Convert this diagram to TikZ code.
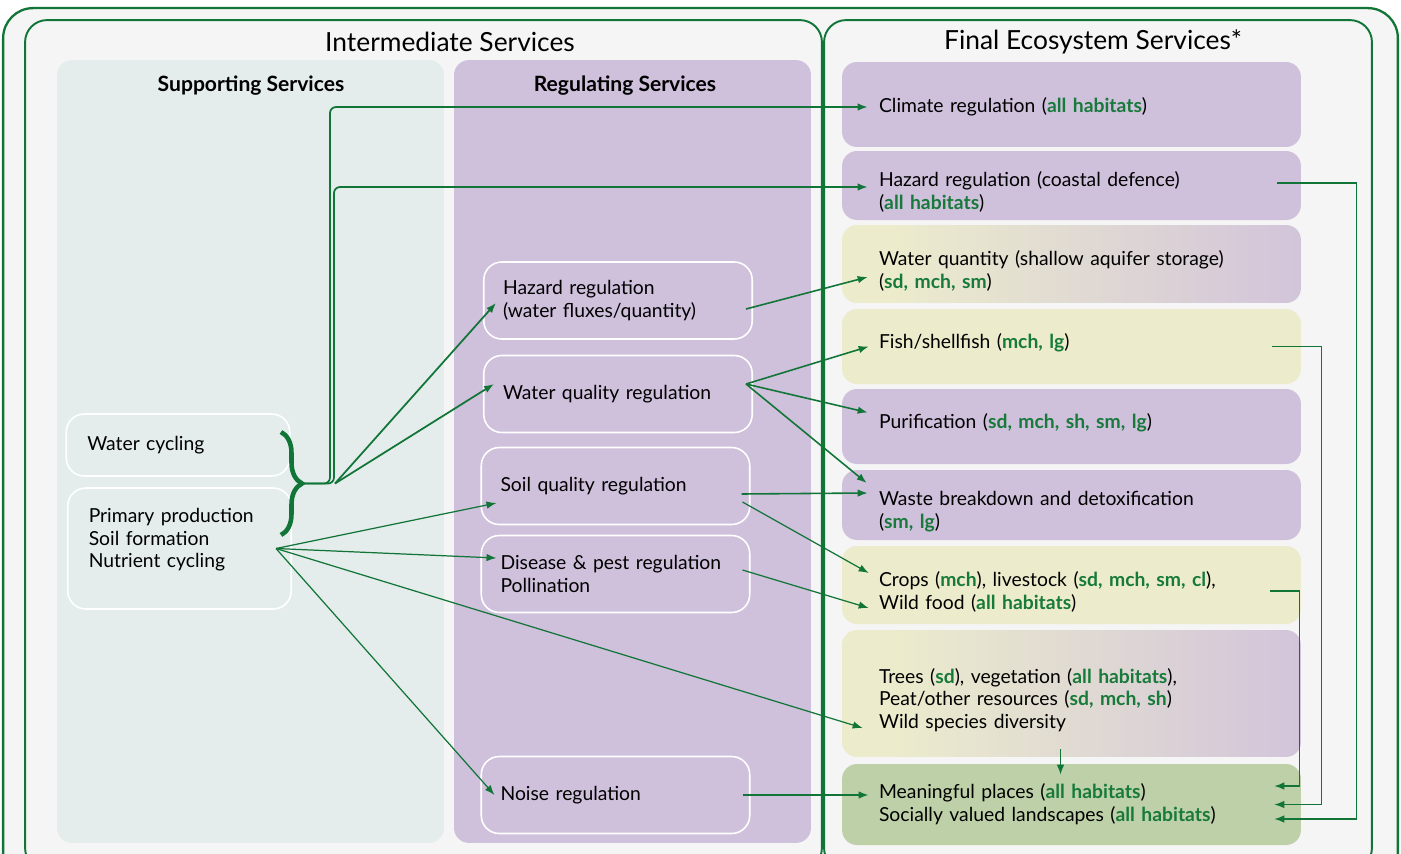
\documentclass[tikz,border=0pt]{standalone}
\usepackage{fontspec}
\setmainfont{Lato}
\usetikzlibrary{arrows.meta, decorations.pathreplacing}

\definecolor{framegreen}{RGB}{18,117,56}
\definecolor{labgreen}{RGB}{24,122,58}
\definecolor{bggray}{RGB}{245,245,245}
\definecolor{supfill}{RGB}{228,236,236}
\definecolor{regpurple}{RGB}{207,192,220}
\definecolor{boxyellow}{RGB}{236,236,204}
\definecolor{boxgreen}{RGB}{190,208,168}

\pgfdeclarehorizontalshading{yelpurp}{100bp}{color(0bp)=(boxyellow); color(30bp)=(boxyellow); color(80bp)=(regpurple); color(100bp)=(regpurple)}

\newcommand{\habs}[1]{\textcolor{labgreen}{\bfseries #1}}

\tikzset{
    frame/.style={draw=framegreen, line width=1.1pt, fill=bggray, rounded corners=0.44cm, inner sep=0pt},
    panel/.style={rounded corners=0.3cm, inner sep=0pt},
    title/.style={font=\fontsize{15}{17}\selectfont},
    subtitle/.style={font=\fontsize{12}{14}\selectfont\bfseries},
    regbox/.style={draw=white, line width=0.9pt, rounded corners=0.36cm, minimum width=5.37cm, minimum height=1.54cm, text width=4.6cm, inner xsep=0.385cm, align=left},
    supbox/.style={draw=white, line width=0.9pt, rounded corners=0.36cm, minimum width=4.47cm, text width=3.63cm, inner xsep=0.42cm, align=left},
    service/.style={rounded corners=0.3cm, minimum width=9.18cm, text width=7.7cm, inner xsep=0.74cm, align=left},
    link/.style={->, draw=framegreen, line width=0.7pt},
}

\begin{document}
\begin{tikzpicture}[x=0.02cm, y=-0.02cm, >={Latex[length=2mm, width=1.5mm]}, every node/.append style={font=\fontsize{11}{13}\selectfont}]
    \useasboundingbox (0,0) rectangle (1401,853);
    \clip (0,0) rectangle (1401,853);
    \fill[white] (0,0) rectangle (1401,853);

    %Place frame nodes
    \node[frame, line width=1.3pt, rounded corners=0.6cm, minimum width=27.9cm, minimum height=17.54cm] (outer) at (700.5,446.5) {};
    \node[frame, minimum width=15.94cm, minimum height=17cm] (inter) at (423.5,445) {};
    \node[frame, minimum width=10.96cm, minimum height=17cm] (final) at (1098,445) {};

    %Place title nodes
    \node[title] (intertitle) at (450,42) {Intermediate Services};
    \node[title] (finaltitle) at (1093,42) {Final Ecosystem Services*};

    %Place column nodes
    \node[panel, fill=supfill, minimum width=7.74cm, minimum height=15.66cm] (supporting) at (250.5,451.5) {};
    \node[panel, fill=regpurple, minimum width=7.14cm, minimum height=15.66cm] (regulating) at (632.5,451.5) {};
    \node[subtitle] (suptitle) at (251,86) {Supporting Services};
    \node[subtitle] (regtitle) at (625,86) {Regulating Services};

    %Place supporting service nodes
    \node[supbox, minimum height=1.24cm] (cycling) at (178,445) {Water cycling};
    \node[supbox, minimum height=2.42cm, text depth=38pt] (primary) at (179.5,548.5) {Primary production\\Soil formation\\Nutrient cycling};

    %Place regulating service nodes
    \node[regbox] (hazard) at (618,300.5) {Hazard regulation\\(water fluxes/quantity)};
    \node[regbox] (wquality) at (618,394) {Water quality regulation};
    \node[regbox] (soil) at (615.5,486) {Soil quality regulation};
    \node[regbox] (disease) at (615.5,574) {Disease \& pest regulation\\Pollination};
    \node[regbox] (noise) at (615.5,795) {Noise regulation};

    %Place final service nodes
    \node[service, fill=regpurple, minimum height=1.7cm, text height=11.6pt] (climate) at (1071.5,104.5) {Climate regulation (\habs{all habitats})};
    \node[service, fill=regpurple, minimum height=1.38cm, text height=16pt] (coastal) at (1071.5,185.5) {Hazard regulation (coastal defence)\\(\habs{all habitats})};
    \node[service, shade, shading=yelpurp, minimum height=1.56cm, text height=16pt] (quantity) at (1071.5,264) {Water quantity (shallow aquifer storage)\\(\habs{sd, mch, sm})};
    \node[service, fill=boxyellow, minimum height=1.5cm, text depth=6.6pt] (fish) at (1071.5,346.5) {Fish/shellfish (\habs{mch, lg})};
    \node[service, fill=regpurple, minimum height=1.5cm, text depth=6.6pt] (purification) at (1071.5,426.5) {Purification (\habs{sd, mch, sh, sm, lg})};
    \node[service, fill=regpurple, minimum height=1.4cm, text height=16pt] (waste) at (1071.5,505) {Waste breakdown and detoxification\\(\habs{sm, lg})};
    \node[service, fill=boxyellow, minimum height=1.56cm, text height=16pt] (crops) at (1071.5,585) {Crops (\habs{mch}), livestock (\habs{sd, mch, sm, cl}),\\Wild food (\habs{all habitats})};
    \node[service, shade, shading=yelpurp, minimum height=2.54cm, text height=16pt] (trees) at (1071.5,693.5) {Trees (\habs{sd}), vegetation (\habs{all habitats}),\\Peat/other resources (\habs{sd, mch, sh})\\Wild species diversity};
    \node[service, fill=boxgreen, minimum height=1.62cm] (places) at (1071.5,804.5) {Meaningful places (\habs{all habitats})\\Socially valued landscapes (\habs{all habitats})};

    %Place brace and junction points
    \draw[framegreen, line width=2.6pt, decorate, decoration={brace, amplitude=0.42cm}] (281,432) -- (281,535);
    \coordinate (bracetip) at (302,483.5);
    \coordinate (fan) at (335,483.5);

    %Draw arrows from supporting services
    \draw[link, line width=1pt, rounded corners=0.12cm] (bracetip) -- ++(28,0) |- ([shift={(26,2.5)}]climate.west);
    \draw[link, line width=1pt, rounded corners=0.12cm] (bracetip) -- ++(32,0) |- ([shift={(26,1.5)}]coastal.west);
    \draw[link, line width=1pt] (fan) -- ([shift={(13,2.5)}]hazard.west);
    \draw[link, line width=1pt] (fan) -- ([shift={(11,-10)}]wquality.west);
    \draw[link] ([shift={(-16,0)}]primary.east) -- ([shift={(16,17)}]soil.west);
    \draw[link] ([shift={(-16,0)}]primary.east) -- ([shift={(16,-16)}]disease.west);
    \draw[link] ([shift={(-16,0)}]primary.east) -- ([shift={(21,34.5)}]trees.west);
    \draw[link] ([shift={(-16,0)}]primary.east) -- ([shift={(14,0)}]noise.west);

    %Draw arrows from regulating services
    \draw[link, line width=0.9pt] ([shift={(-7,8.5)}]hazard.east) -- ([shift={(26,13)}]quantity.west);
    \draw[link, line width=0.9pt] ([shift={(-7,-10)}]wquality.east) -- ([shift={(27,0)}]fish.west);
    \draw[link, line width=0.9pt] ([shift={(-7,-10)}]wquality.east) -- ([shift={(26,-14)}]purification.west);
    \draw[link, line width=0.9pt] ([shift={(-7,-10)}]wquality.east) -- ([shift={(25,-22)}]waste.west);
    \draw[link, line width=0.9pt] ([shift={(-9,8)}]soil.east) -- ([shift={(26,-12)}]waste.west);
    \draw[link] ([shift={(-8,16)}]soil.east) -- ([shift={(27,-12)}]crops.west);
    \draw[link] ([shift={(-8,-4)}]disease.east) -- ([shift={(27,23)}]crops.west);
    \draw[link, line width=0.9pt] ([shift={(-8,0)}]noise.east) -- ([shift={(27,-9.5)}]places.west);

    %Draw arrows between final services
    \draw[link] ([shift={(-11,-8)}]trees.south) -- ([shift={(-11,11)}]places.north);
    \draw[link] ([shift={(-31,6)}]crops.east) -- ++(29,0) |- ([shift={(-27,-18.5)}]places.east);
    \draw[link] ([shift={(-29,0)}]fish.east) -- ++(49,0) |- ([shift={(-27,0)}]places.east);
    \draw[link] ([shift={(-24,-2.5)}]coastal.east) -- ++(79,0) |- ([shift={(-27,14.5)}]places.east);
\end{tikzpicture}
\end{document}
